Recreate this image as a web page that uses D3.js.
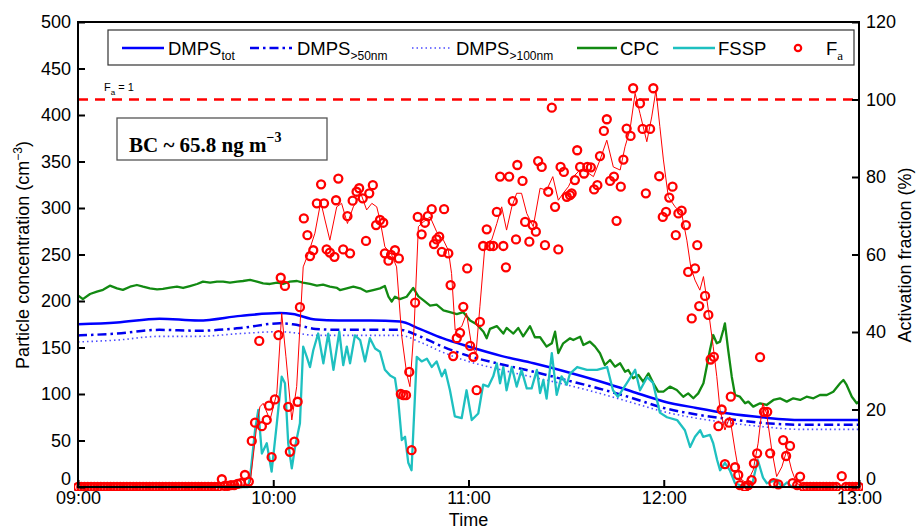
<!DOCTYPE html>
<html><head><meta charset="utf-8">
<script src="https://cdn.jsdelivr.net/npm/d3@7"></script>
<style>
body{margin:0;background:#fff}
svg{display:block}
text{font-family:'Liberation Sans',Arial,Helvetica,sans-serif}
</style>
</head><body>
<svg id="c" width="921" height="530"></svg>
<script>
// ---- data (time in minutes after 09:00) ----
const timeTicks = [0, 60, 120, 180, 240];
const timeLabels = ["09:00", "10:00", "11:00", "12:00", "13:00"];
const concTicks = [0, 50, 100, 150, 200, 250, 300, 350, 400, 450, 500];
const pctTicks = [0, 20, 40, 60, 80, 100, 120];

const dmpsTime = [0, 12, 25, 37, 50, 62, 66, 73, 80, 90, 99, 105, 112, 120, 130, 140, 150, 160, 170, 180, 190, 200, 210, 222, 240];
const dmpsTot  = [175, 177, 181, 179, 184, 187, 186, 180, 179, 179, 178, 170, 160, 151, 141, 133, 124, 114, 103, 92, 85, 79, 75, 72, 72];
const dmps50   = [163, 165, 169, 168, 171, 176, 175, 170, 169, 169, 169, 162, 151, 141, 132, 124, 115, 106, 96, 85, 78, 73, 69, 67, 67];
const dmps100  = [156, 158, 162, 162, 165, 167, 166, 163, 163, 163, 163, 156, 145, 135, 126, 118, 110, 101, 91, 81, 74, 69, 65, 62, 62];

const cpcTime = [0, 1.5, 3.7, 5.8, 7.7, 9.8, 12.0, 13.8, 16.0, 18.1, 20.0, 22.1, 24.3, 26.1, 28.3, 30.4, 32.3, 34.4, 36.6, 38.4, 40.6, 42.7, 44.6, 46.7, 48.9, 50.7, 52.9, 55.0, 56.9, 59.0, 61.2, 63.0, 65.1, 67.3, 69.1, 71.3, 73.4, 75.3, 77.4, 79.6, 80.5, 82.6, 84.6, 86.7, 88.7, 90.7, 92.8, 94.3, 95.4, 96.4, 97.4, 98.9, 101.0, 103.0, 104.6, 106.1, 108.2, 110.2, 112.3, 114.3, 116.4, 118.4, 120.5, 122.5, 124.6, 125.6, 126.6, 128.7, 130.7, 131.7, 133.8, 135.3, 136.8, 138.9, 140.4, 142.0, 144.0, 145.6, 146.6, 147.6, 149.1, 151.2, 152.2, 154.3, 155.3, 157.3, 158.9, 160.4, 161.9, 163.5, 165.0, 166.6, 168.1, 169.1, 170.6, 172.2, 173.7, 175.3, 176.8, 178.3, 179.9, 181.9, 184.0, 186.0, 187.5, 189.1, 190.6, 192.2, 193.2, 194.2, 195.2, 196.3, 197.3, 198.3, 198.8, 199.8, 200.9, 201.9, 203.4, 205.0, 206.0, 207.5, 209.6, 211.6, 213.7, 215.7, 217.8, 219.8, 221.9, 223.9, 226.0, 228.0, 230.1, 232.1, 234.2, 235.2, 236.2, 237.8, 239.3, 240];
const cpcConc = [206, 202, 207.5, 210, 212, 216.5, 213.6, 212, 215.4, 217.2, 215.4, 213.6, 212.6, 213, 214.4, 215.4, 214, 216.1, 218.3, 220.8, 219.7, 220.8, 220.8, 219.7, 220.8, 221.5, 222.6, 220.8, 219, 218.3, 219.7, 218.3, 220.8, 221.5, 219.7, 218.3, 216.5, 217.5, 215.4, 214, 211.8, 213.6, 215.4, 213.6, 210, 211.8, 213.6, 216.1, 204.6, 199.3, 204.6, 202, 204.6, 214, 205, 201, 195, 196, 190, 188, 186, 188, 179, 175, 167, 160, 170, 173, 165, 171, 165, 171, 162, 173, 161, 161, 151, 154.5, 167, 144, 154.5, 159.9, 158, 161.6, 152.7, 156.3, 150.9, 143.8, 131.2, 136.6, 129.4, 133, 124, 125.8, 116.9, 120.4, 113.2, 122.2, 111.5, 102.5, 102.5, 107.9, 104.3, 97.1, 100.7, 95.4, 100.7, 111.5, 129.4, 147.3, 163.4, 154.5, 156.3, 168.8, 176, 147.3, 118.6, 98.9, 97.1, 90, 91.8, 86.4, 90, 88.2, 93.6, 95.4, 91.8, 95.4, 93.6, 97.1, 95.4, 98.9, 98.9, 102.5, 111.5, 115.1, 109.7, 97.1, 90, 92];

const fsspTime = [0, 52.2, 52.9, 54.4, 55.4, 56.5, 58.0, 59.5, 61.1, 62.6, 63.6, 64.6, 65.7, 66.7, 68.2, 69.2, 70.3, 71.3, 72.3, 73.8, 75.4, 76.9, 78.5, 80.3, 81.5, 82.6, 83.6, 85.1, 86.7, 88.2, 89.7, 91.3, 92.8, 94.3, 95.9, 97.4, 98.4, 99.5, 100.5, 101.5, 102.5, 104.1, 105.6, 107.2, 108.7, 110.2, 111.8, 112.8, 114.3, 115.8, 117.9, 119.4, 121.0, 123.0, 124.5, 126.1, 127.6, 128.7, 129.7, 130.7, 131.7, 133.3, 134.8, 136.3, 137.9, 139.4, 141.0, 142.0, 143.0, 144.0, 145.6, 147.1, 148.6, 150.2, 151.2, 153.4, 156.4, 159.5, 162.6, 164.4, 165.9, 168.7, 171.2, 172.7, 174.9, 176.7, 178.8, 181.0, 184.1, 186.5, 188.1, 189.6, 191.2, 192.1, 194.2, 195.2, 196.4, 197.3, 198.8, 200.3, 201.9, 205.0, 207.1, 208.9, 210.5, 211.7, 214.8, 216.3, 217.9, 219.4, 240];
const fsspConc = [0, 0, 11, 61, 83, 36, 47, 16.5, 68.5, 118.6, 111.5, 47, 20, 43, 68.5, 151, 140, 129, 147, 165, 133, 165, 126, 167, 131, 151, 133, 163, 158, 135, 160, 149, 145.5, 126, 120, 117, 93.5, 50.5, 54, 26, 18, 140, 135, 138, 129, 135, 119, 126, 104, 76, 74, 104, 72, 79, 110, 108, 119, 133, 111.5, 129, 104, 129, 108, 126, 106, 106, 126, 101, 115, 95, 144, 99, 119, 110, 122, 129, 126, 126, 129, 104, 97, 112, 126, 104, 118, 112, 80, 75, 72, 61, 43, 54, 61, 54, 56, 47, 29, 18, 26, 18, 4, 0, 2, 29, 10, 4, 8, 0, 5, 0, 0];

const faTime = [0, 1, 2, 3, 4, 5, 6, 7, 8, 9, 10, 11, 12, 13, 14, 15, 16, 17, 18, 19, 20, 21, 22, 23, 24, 25, 26, 27, 28, 29, 30, 31, 32, 33, 34, 35, 36, 37, 38, 39, 40, 41, 42, 43, 44.2, 45, 46, 47, 48, 49, 50, 51.3, 52.5, 53.4, 54.4, 55.7, 56.5, 58.0, 58.7, 59.5, 60.5, 61.6, 62.3, 63.6, 64.6, 65.1, 66.5, 67.5, 68.2, 69.4, 70.5, 71.3, 72.3, 73.4, 74.7, 75.6, 76.4, 77.4, 78.8, 79.3, 80.0, 81.5, 82.8, 83.6, 84.4, 85.6, 86.4, 87.5, 88.5, 89.5, 90.6, 91.6, 92.8, 93.8, 94.3, 95.4, 96.2, 97.4, 98.6, 99.2, 100.0, 100.8, 101.8, 102.5, 103.6, 104.4, 105.6, 106.6, 107.5, 108.7, 109.4, 110.2, 111.0, 111.8, 112.5, 113.8, 114.5, 115.3, 116.4, 117.4, 118.4, 119.6, 120.5, 121.5, 122.5, 123.5, 124.5, 125.6, 126.6, 127.6, 128.7, 129.7, 130.7, 131.5, 132.5, 133.6, 134.6, 135.0, 136.6, 137.4, 138.7, 139.7, 140.7, 141.4, 142.5, 143.5, 144.5, 145.6, 146.6, 147.6, 148.3, 149.3, 150.2, 151.2, 151.7, 152.7, 153.4, 154.3, 155.5, 156.5, 157.6, 158.6, 159.6, 160.4, 161.6, 162.5, 163.5, 164.7, 165.5, 166.8, 167.6, 168.6, 169.8, 170.6, 172.7, 173.5, 174.5, 175.8, 176.8, 178.6, 179.7, 180.7, 181.7, 182.7, 183.7, 184.5, 185.5, 186.8, 187.5, 188.6, 189.6, 190.3, 190.9, 192.7, 193.7, 194.4, 195.4, 196.8, 197.8, 198.8, 200.1, 200.6, 201.9, 202.9, 203.4, 205.0, 206.0, 207.0, 207.7, 208.7, 209.6, 210.8, 211.8, 212.7, 213.7, 215.2, 216.7, 217.6, 218.8, 219.6, 221.0, 221.9, 223, 224, 225, 226, 227, 228, 229, 230, 231, 232, 233, 234.7, 236, 237, 238, 239, 240];
const faPct = [0, 0, 0, 0, 0, 0, 0, 0, 0, 0, 0, 0, 0, 0, 0, 0, 0, 0, 0, 0, 0, 0, 0, 0, 0, 0, 0, 0, 0, 0, 0, 0, 0, 0, 0, 0, 0, 0, 0, 0, 0, 0, 0, 0, 2.0, 0.3, 0.3, 0.5, 0.5, 0.8, 1.0, 3.1, 1.4, 11.9, 16.6, 37.7, 15.7, 17.3, 21.0, 7.7, 22.6, 39.2, 54.0, 51.9, 20.7, 9.1, 11.7, 22.0, 46.4, 69.3, 65.0, 59.6, 61.1, 73.2, 78.1, 73.2, 61.3, 60.5, 59.4, 74.0, 79.6, 61.3, 69.9, 60.3, 73.9, 76.2, 77.1, 74.5, 63.5, 75.8, 77.9, 67.6, 68.9, 68.2, 60.3, 58.4, 59.9, 61.1, 59.0, 24.0, 23.7, 23.7, 29.7, 9.5, 47.6, 69.7, 65.2, 68.2, 69.9, 71.7, 62.7, 63.9, 64.6, 60.7, 71.7, 60.3, 52.1, 33.8, 38.4, 39.8, 46.5, 56.4, 36.4, 33.6, 25.0, 42.6, 62.2, 66.5, 62.2, 62.2, 71.0, 80.1, 62.2, 56.7, 80.1, 73.8, 63.9, 83.1, 79.0, 68.4, 63.3, 67.6, 65.9, 84.1, 82.6, 62.4, 76.2, 97.9, 72.3, 61.3, 82.6, 81.3, 74.9, 75.3, 75.8, 79.2, 86.9, 82.6, 80.9, 82.6, 82.5, 76.8, 77.9, 85.4, 91.9, 94.9, 79.0, 80.1, 68.7, 77.5, 84.5, 92.5, 90.6, 102.9, 99.0, 92.4, 75.8, 92.4, 102.9, 80.2, 69.7, 71.0, 74.7, 77.5, 65.0, 70.6, 71.3, 67.6, 55.5, 43.5, 56.4, 62.4, 46.7, 49.3, 44.4, 32.9, 33.6, 15.7, 20.0, 5.9, 16.6, 23.3, 5.1, 3.1, 0.5, 0, 0.5, 1.8, 6.1, 8.7, 33.5, 19.4, 19.4, 8.7, 1.0, 0.7, 12.1, 8.0, 10.6, 1.0, 0.5, 2.7, 0, 0, 0, 0, 0, 0, 0, 0, 0, 0, 0, 2.8, 0, 0, 0, 0, 0];

const faLineTime = [0, 52.2, 52.9, 54.9, 55.9, 56.9, 59.0, 61.1, 62.6, 63.9, 65.7, 67.2, 69.2, 70.8, 72.8, 74.6, 75.9, 77.4, 79.5, 81.0, 82.8, 84.6, 86.9, 88.7, 90.3, 91.8, 92.8, 94.3, 96.4, 97.9, 99.5, 101.0, 102.0, 103.3, 104.6, 106.1, 108.2, 110.2, 112.3, 113.8, 114.8, 115.9, 117.9, 119.4, 121.0, 122.3, 123.5, 125.1, 127.1, 128.7, 130.2, 131.7, 133.3, 134.8, 136.3, 137.9, 139.9, 142.0, 144.0, 145.9, 147.6, 149.1, 150.7, 152.2, 154.3, 156.3, 158.4, 160.4, 162.5, 164.5, 166.6, 168.1, 169.6, 171.2, 172.7, 174.8, 176.3, 177.6, 178.8, 179.9, 181.4, 183.5, 185.5, 187.1, 188.3, 189.6, 191.1, 192.2, 193.7, 195.2, 196.3, 197.3, 198.8, 200.3, 201.9, 203.4, 205.5, 207.5, 209.0, 210.4, 211.6, 213.2, 214.7, 216.3, 217.8, 219.3, 220.8, 221.9, 240];
const faLinePct = [0, 0.5, 1.0, 15.6, 20.7, 21.6, 17.3, 24.2, 44.8, 33.6, 17.3, 25.9, 56.8, 60.3, 65.5, 73.6, 68.9, 63.7, 72.3, 73.2, 68.0, 72.3, 75.8, 71.5, 73.2, 72.3, 68.9, 62.0, 59.9, 56.8, 38.8, 29.3, 25.9, 41.4, 67.2, 68.4, 69.7, 65.9, 63.7, 61.1, 55.1, 40.5, 41.4, 44.8, 36.2, 34.5, 46.5, 62.9, 63.7, 68.0, 72.3, 66.3, 72.3, 75.8, 75.8, 70.6, 67.2, 77.1, 76.6, 80.1, 74.0, 75.8, 77.5, 80.1, 81.8, 81.3, 80.1, 84.4, 89.5, 82.6, 81.8, 87.8, 92.1, 101.6, 96.4, 89.1, 95.5, 102.4, 93.0, 84.4, 74.9, 72.3, 70.6, 63.7, 56.8, 53.4, 50.8, 54.3, 45.7, 36.2, 28.5, 19.9, 14.7, 18.1, 9.5, 2.2, 1.0, 4.4, 11.3, 21.6, 19.0, 9.5, 2.7, 5.2, 9.5, 4.4, 1.0, 0.5, 0];

const faUnity = 100;

// ---- chart ----
const svg = d3.select("#c");
const L = 78, R = 859, T = 22, B = 487;
const x = d3.scaleLinear().domain([0, 240]).range([L, R]);
const yL = d3.scaleLinear().domain([0, 500]).range([B, T]);
const yR = d3.scaleLinear().domain([0, 120]).range([B, T]);
const FS = 18;

svg.append("defs").append("clipPath").attr("id", "clip")
  .append("rect").attr("x", L - 4).attr("y", T).attr("width", R - L + 8).attr("height", B - T + 4);

const plot = svg.append("g").attr("clip-path", "url(#clip)");
const zip = (t, v) => t.map((d, i) => [d, v[i]]);

const lineL = d3.line().x(d => x(d[0])).y(d => yL(d[1]));
const smoothL = d3.line().x(d => x(d[0])).y(d => yL(d[1])).curve(d3.curveMonotoneX);
const lineR = d3.line().x(d => x(d[0])).y(d => yR(d[1]));

// DMPS
plot.append("path").datum(zip(dmpsTime, dmps100)).attr("d", smoothL)
  .attr("fill", "none").attr("stroke", "#4b4bff").attr("stroke-width", 1.6).attr("stroke-dasharray", "1.5,3");
plot.append("path").datum(zip(dmpsTime, dmps50)).attr("d", smoothL)
  .attr("fill", "none").attr("stroke", "#0000ee").attr("stroke-width", 2.5).attr("stroke-dasharray", "9,4,2.5,4");
plot.append("path").datum(zip(dmpsTime, dmpsTot)).attr("d", smoothL)
  .attr("fill", "none").attr("stroke", "#0000ff").attr("stroke-width", 2.5);
// CPC
plot.append("path").datum(zip(cpcTime, cpcConc)).attr("d", lineL)
  .attr("fill", "none").attr("stroke", "#128a12").attr("stroke-width", 2.3).attr("stroke-linejoin", "round");
// FSSP
plot.append("path").datum(zip(fsspTime, fsspConc)).attr("d", lineL)
  .attr("fill", "none").attr("stroke", "#1ec0c0").attr("stroke-width", 2.3).attr("stroke-linejoin", "round");
// Fa = 1
plot.append("line").attr("x1", L).attr("x2", R).attr("y1", yR(faUnity)).attr("y2", yR(faUnity))
  .attr("stroke", "#ff0000").attr("stroke-width", 2.5).attr("stroke-dasharray", "10,7");
// Fa line & circles
plot.append("path").datum(zip(faLineTime, faLinePct)).attr("d", lineR)
  .attr("fill", "none").attr("stroke", "#ff0000").attr("stroke-width", 1);
plot.selectAll("circle.fa").data(zip(faTime, faPct)).join("circle")
  .attr("class", "fa").attr("cx", d => x(d[0])).attr("cy", d => yR(d[1])).attr("r", 4)
  .attr("fill", "none").attr("stroke", "#ff0000").attr("stroke-width", 2.3);

// axes
const gl = svg.append("g").attr("transform", `translate(${L},0)`)
  .call(d3.axisLeft(yL).tickValues(concTicks).tickSize(-7).tickPadding(7));
const gr = svg.append("g").attr("transform", `translate(${R},0)`)
  .call(d3.axisRight(yR).tickValues(pctTicks).tickSize(-7).tickPadding(7));
const gb = svg.append("g").attr("transform", `translate(0,${B})`)
  .call(d3.axisBottom(x).tickValues(timeTicks).tickFormat((d, i) => timeLabels[i]).tickSize(-7).tickPadding(5));
[gl, gr, gb].forEach(g => {
  g.select(".domain").remove();
  g.selectAll(".tick line").attr("stroke", "#000").attr("stroke-width", 2);
  g.selectAll(".tick text").attr("font-size", FS).attr("fill", "#000")
    .style("font-family", "'Liberation Sans',Arial,sans-serif");
});
gl.selectAll(".tick").filter(d => d === 0).select("text").attr("dy", "-0.15em");
gr.selectAll(".tick").filter(d => d === 0).select("text").attr("dy", "-0.15em");
gb.selectAll(".tick text").attr("dy", "0.68em");

svg.append("rect").attr("x", L).attr("y", T).attr("width", R - L).attr("height", B - T)
  .attr("fill", "none").attr("stroke", "#000").attr("stroke-width", 2);

// axis titles
const lt = svg.append("text").attr("transform", "translate(29,255) rotate(-90)")
  .attr("text-anchor", "middle").attr("font-size", FS);
lt.append("tspan").text("Particle concentration (cm");
lt.append("tspan").attr("font-size", 12).attr("dy", -7).text("\u22123");
lt.append("tspan").attr("dy", 7).text(")");
svg.append("text").attr("transform", "translate(911,255) rotate(-90)")
  .attr("text-anchor", "middle").attr("font-size", FS).text("Activation fraction (%)");
svg.append("text").attr("x", (L + R) / 2).attr("y", 526).attr("text-anchor", "middle")
  .attr("font-size", FS).text("Time");

// Fa = 1 label
const fl = svg.append("text").attr("x", 104).attr("y", 91).attr("font-size", 11);
fl.append("tspan").text("F");
fl.append("tspan").attr("font-size", 8).attr("dy", 4).text("a");
fl.append("tspan").attr("dy", -4).text(" = 1");

// BC box
svg.append("rect").attr("x", 117).attr("y", 118).attr("width", 210).attr("height", 42)
  .attr("fill", "#fff").attr("stroke", "#555").attr("stroke-width", 1.3);
const bc = svg.append("text").attr("x", 129).attr("y", 152)
  .style("font-family", "'Liberation Serif','Times New Roman',serif").attr("font-weight", "bold").attr("font-size", 21);
bc.append("tspan").text("BC ~ 65.8 ng m");
bc.append("tspan").attr("font-size", 14).attr("dy", -10).text("\u22123");

// legend
const lg = svg.append("g");
lg.append("rect").attr("x", 108).attr("y", 30).attr("width", 746).attr("height", 35)
  .attr("fill", "#fff").attr("stroke", "#333").attr("stroke-width", 1.2);
const ly = 48, lty = 55;
function legText(xp, main, sub, subSerif) {
  const t = lg.append("text").attr("x", xp).attr("y", lty).attr("font-size", 18.5);
  t.append("tspan").text(main);
  if (sub) {
    const s = t.append("tspan").attr("font-size", 12).attr("dy", 5).text(sub);
    if (subSerif) s.style("font-family", "'Liberation Serif','Times New Roman',serif").attr("font-size", 13);
  }
}
lg.append("line").attr("x1", 122).attr("x2", 164).attr("y1", ly).attr("y2", ly)
  .attr("stroke", "#0000ff").attr("stroke-width", 2.5);
legText(168, "DMPS", "tot");
lg.append("line").attr("x1", 250).attr("x2", 292).attr("y1", ly).attr("y2", ly)
  .attr("stroke", "#0000ee").attr("stroke-width", 2.5).attr("stroke-dasharray", "9,4,2.5,4");
legText(297, "DMPS", ">50nm");
lg.append("line").attr("x1", 412).attr("x2", 452).attr("y1", ly).attr("y2", ly)
  .attr("stroke", "#4b4bff").attr("stroke-width", 1.6).attr("stroke-dasharray", "1.5,3");
legText(456, "DMPS", ">100nm");
lg.append("line").attr("x1", 577).attr("x2", 617).attr("y1", ly).attr("y2", ly)
  .attr("stroke", "#128a12").attr("stroke-width", 2.3);
legText(620, "CPC");
lg.append("line").attr("x1", 673).attr("x2", 715).attr("y1", ly).attr("y2", ly)
  .attr("stroke", "#1ec0c0").attr("stroke-width", 2.3);
legText(718, "FSSP");
lg.append("circle").attr("cx", 798).attr("cy", ly).attr("r", 3.2)
  .attr("fill", "none").attr("stroke", "#ff0000").attr("stroke-width", 2.2);
legText(826, "F", "a", true);
</script>
</body></html>
